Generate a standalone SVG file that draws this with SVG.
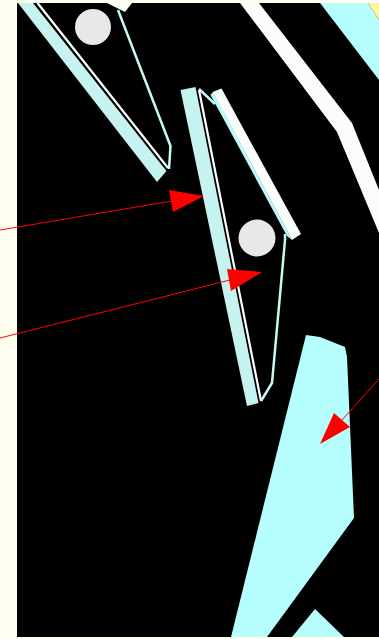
<svg xmlns="http://www.w3.org/2000/svg" width="379" height="639" viewBox="0 0 379 639">
<style>
.bg{fill:#fffff0}.k{fill:#000}.c{fill:#b6fdfd}.p{fill:#c6f3ef}.w{fill:#fbfdfb}
.wl{fill:none;stroke:#fff;stroke-width:2.200}.cl{fill:none;stroke:#c6f8f6;stroke-width:2.500}
.d{fill:#e8e8e8}.a{fill:none;stroke:#f00;stroke-width:1}.h{fill:#f00}
</style>
<rect class="bg" width="379" height="639"/>
<rect class="k" x="17" y="3" width="362" height="634"/>
<g id="top-right">
<polygon class="c" points="320,3 368,3 379,20 379,80"/>
<polygon fill="#fff59a" points="368,3 379,3 379,20"/>
<polygon class="w" points="240,3 259,3 352,123 379,190 379,233 337,132"/>
</g>
<g id="upper-blade">
<polygon class="p" points="18,3 33,3 166.500,171 157,182"/>
<path class="wl" d="M37.500,3L168,168"/>
<path class="cl" d="M118,10L170.500,146L169,169"/>
<polygon class="w" points="107,3 132,3 125,12 117,8"/>
<circle class="d" cx="93" cy="27" r="18"/>
</g>
<g id="lower-blade">
<polygon class="p" points="180.500,90 195.500,87 258.500,403 247,406"/>
<path class="cl" d="M199,89L215,104"/>
<path class="wl" d="M199,90L261,401"/>
<path class="cl" d="M285,234L285,240L272,383L261,401"/>
<polygon class="c" points="210.500,95 213,92 292,240 287,236"/>
<polygon class="w" points="212.700,92 221.500,88.500 301,234 292,240"/>
<circle class="d" cx="257" cy="238" r="18.500"/>
</g>
<g id="large-shape">
<polygon class="c" points="306,335 320,337 345,347 347,357 354,518 267,637 231,637"/>
</g>
<g id="small-shape">
<polygon class="c" points="315,609 344,637 292,637"/>
</g>
<g id="connectors">
<path class="a" d="M0,230L172,201"/>
<polygon class="h" points="204,196 169,190 173,212"/>
<path class="a" d="M0,338L230,280"/>
<polygon class="h" points="262,272 227,269 231,291"/>
<path class="a" d="M379,379L342,420"/>
<polygon class="h" points="320,444 334,413 350,427"/>
</g>
</svg>
